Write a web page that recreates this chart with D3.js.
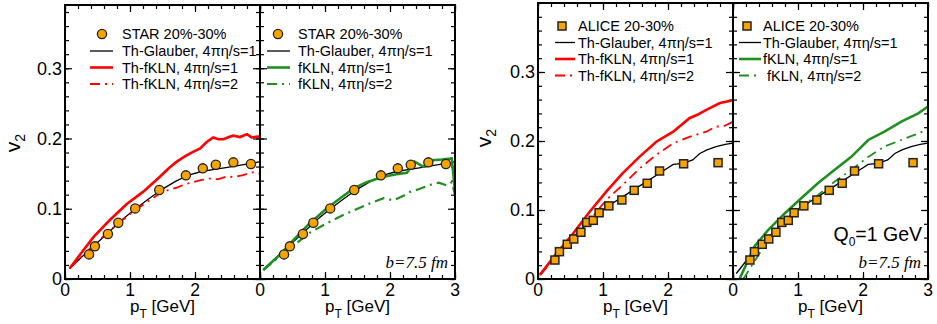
<!DOCTYPE html>
<html>
<head>
<meta charset="utf-8">
<script src="https://cdn.jsdelivr.net/npm/d3@7"></script>
<style>
  body { margin: 0; background: #fff; }
  svg { display: block; }
  text { font-family: "Liberation Sans", Arial, sans-serif; fill: #000; }
</style>
</head>
<body>
<svg id="chart" width="937" height="324"></svg>
<script>
// ---- data (pT in GeV, v2) ----
const starPt = [0.37, 0.46, 0.66, 0.82, 1.08, 1.45, 1.86, 2.12, 2.32, 2.59, 2.86];
const starV2 = [0.035, 0.0465, 0.064, 0.080, 0.1005, 0.1266, 0.1475, 0.1575, 0.1626, 0.166, 0.1636];

const alicePt = [0.26, 0.33, 0.45, 0.55, 0.66, 0.75, 0.85, 0.94, 1.09, 1.29, 1.48, 1.68, 1.87, 2.24, 2.77];
const aliceV2 = [0.0275, 0.0396, 0.0503, 0.058, 0.0677, 0.082, 0.085, 0.096, 0.106, 0.1145, 0.1285, 0.1387, 0.1565, 0.167, 0.1686];

// RHIC hydro curves
const glauberRhic = [[0.07,0.015],[0.3,0.035],[0.5,0.052],[0.7,0.069],[0.9,0.086],[1.1,0.101],[1.3,0.115],[1.5,0.128],
  [1.7,0.139],[1.9,0.148],[2.1,0.153],[2.3,0.156],[2.5,0.159],[2.7,0.162],[2.9,0.165],[3.0,0.167]];
const fklnRhic1 = [[0.07,0.015],[0.25,0.037],[0.44,0.060],[0.69,0.084],[0.95,0.1067],[1.2,0.124],[1.46,0.1455],[1.6,0.158],
  [1.72,0.167],[1.85,0.175],[1.97,0.181],[2.08,0.186],[2.18,0.195],[2.28,0.2015],[2.36,0.199],[2.44,0.199],[2.52,0.202],
  [2.59,0.204],[2.69,0.202],[2.8,0.206],[2.87,0.2015],[3.0,0.203]];
const fklnRhic2 = [[0.07,0.015],[0.3,0.036],[0.5,0.053],[0.7,0.07],[0.9,0.085],[1.08,0.098],[1.3,0.112],[1.46,0.122],
  [1.6,0.127],[1.72,0.13],[1.85,0.135],[1.97,0.138],[2.1,0.141],[2.23,0.143],[2.35,0.142],[2.49,0.146],[2.6,0.145],
  [2.74,0.148],[2.9,0.152],[3.0,0.150]];
const mcklnRhic1 = [[0.05,0.0128],[0.3,0.034],[0.51,0.055],[0.75,0.078],[1.03,0.1006],[1.25,0.116],[1.44,0.129],[1.65,0.138],
  [1.9,0.1455],[2.1,0.149],[2.26,0.151],[2.38,0.167],[2.51,0.16],[2.64,0.169],[2.8,0.170],[2.95,0.1717],[3.0,0.125]];
const mcklnRhic2 = [[0.05,0.0128],[0.36,0.0365],[0.77,0.066],[1.0,0.078],[1.28,0.091],[1.5,0.1],[1.7,0.108],[1.9,0.115],
  [2.05,0.112],[2.2,0.118],[2.31,0.124],[2.45,0.128],[2.62,0.134],[2.75,0.137],[2.88,0.133],[2.95,0.138],[3.0,0.12]];

// LHC hydro curves
const glauberLhc = [[0.05,0.008],[0.3,0.038],[0.5,0.057],[0.7,0.075],[0.9,0.093],[1.1,0.107],[1.3,0.119],[1.5,0.131],
  [1.7,0.143],[1.9,0.155],[2.08,0.166],[2.23,0.1677],[2.38,0.1725],[2.49,0.182],[2.6,0.187],[2.74,0.192],[2.88,0.195],[3.0,0.197]];
const fklnLhc1 = [[0.03,0.006],[0.283,0.037],[0.54,0.066],[0.795,0.0975],[1.05,0.1266],[1.3,0.153],[1.56,0.177],[1.82,0.199],
  [2.08,0.2135],[2.33,0.233],[2.45,0.238],[2.59,0.245],[2.8,0.255],[3.0,0.259]];
const fklnLhc2 = [[0.03,0.006],[0.2,0.024],[0.35,0.038],[0.54,0.054],[0.795,0.0855],[1.05,0.1145],[1.3,0.136],[1.56,0.160],
  [1.82,0.18],[2.08,0.1967],[2.33,0.206],[2.59,0.2135],[2.74,0.221],[2.85,0.221],[3.0,0.228]];
const mcklnLhc1 = [[0.1,0.0],[0.33,0.047],[0.54,0.071],[0.795,0.095],[1.05,0.117],[1.31,0.139],[1.56,0.158],[1.82,0.177],
  [2.08,0.2015],[2.33,0.2135],[2.59,0.228],[2.85,0.240],[3.0,0.25]];
const mcklnLhc2 = [[0.15,0.0],[0.18,0.003],[0.44,0.042],[0.69,0.071],[1.05,0.105],[1.31,0.1217],[1.56,0.141],[1.82,0.158],
  [2.08,0.177],[2.33,0.192],[2.59,0.2015],[2.85,0.211],[3.0,0.217]];

const starLegend = ['STAR 20%-30%', 'Th-Glauber, 4πη/s=1'];
const aliceLegend = ['ALICE 20-30%', 'Th-Glauber, 4πη/s=1'];
const redLegend = ['Th-fKLN, 4πη/s=1', 'Th-fKLN, 4πη/s=2'];
const greenLegendRhic = ['fKLN, 4πη/s=1', 'fKLN, 4πη/s=2'];
const greenLegendLhc = ['fKLN, 4πη/s=1', ' fKLN, 4πη/s=2'];

// ---- layout ----
const svg = d3.select('#chart');
const orange = '#f7a400';
const red = '#ff0000';
const green = '#1f8f1f';
const dashDot = '10,5,2,5';
const bottom = 279;

const panels = [
  {id: 'p1', left: 65, right: 260, top: 5, ymax: 0.39, yLabels: true, xLabels: [0, 1, 2],
   exp: 'star', curves: [[glauberRhic, '#000', 1.3, null], [fklnRhic1, red, 2.6, null], [fklnRhic2, red, 1.8, dashDot]],
   legend: {mark: 102, line: [90, 113], text: 122, rows: [34, 51, 67.5, 84]},
   labels: starLegend.concat(redLegend), v2: [20, 143], b: false, q: false},
  {id: 'p2', left: 260, right: 455, top: 5, ymax: 0.39, yLabels: false, xLabels: [0, 1, 2, 3],
   exp: 'star', curves: [[glauberRhic, '#000', 1.3, null], [mcklnRhic1, green, 2.6, null], [mcklnRhic2, green, 2.2, dashDot]],
   legend: {mark: 278, line: [267, 290], text: 298, rows: [34, 51, 67.5, 84]},
   labels: starLegend.concat(greenLegendRhic), b: true, q: false},
  {id: 'p3', left: 538, right: 733, top: 3, ymax: 0.4, yLabels: true, xLabels: [0, 1, 2],
   exp: 'alice', curves: [[glauberLhc, '#000', 1.3, null], [fklnLhc1, red, 2.6, null], [fklnLhc2, red, 1.8, dashDot]],
   legend: {mark: 562, line: [555, 575], text: 578, rows: [26, 42.5, 59, 75.5]},
   labels: aliceLegend.concat(redLegend), v2: [491, 138], b: false, q: false},
  {id: 'p4', left: 733, right: 928, top: 3, ymax: 0.4, yLabels: false, xLabels: [0, 1, 2, 3],
   exp: 'alice', curves: [[glauberLhc, '#000', 1.3, null], [mcklnLhc1, green, 2.6, null], [mcklnLhc2, green, 1.8, dashDot]],
   legend: {mark: 747, line: [739, 761], text: 763, rows: [26, 42.5, 59, 75.5]},
   labels: aliceLegend.concat(greenLegendLhc), b: true, q: true}
];

const xMinor = d3.range(0, 3.001, 0.2).map(v => +v.toFixed(1));
const xMajor = [0, 1, 2, 3];

panels.forEach(p => {
  const x = d3.scaleLinear().domain([0, 3]).range([p.left, p.right]);
  const y = d3.scaleLinear().domain([0, p.ymax]).range([bottom, p.top]);
  const yMinor = d3.range(0, p.ymax + 1e-9, 0.02).map(v => +v.toFixed(2));
  const yMajor = [0, 0.1, 0.2, 0.3];
  const g = svg.append('g');

  svg.append('clipPath').attr('id', 'clip-' + p.id)
    .append('rect').attr('x', p.left).attr('y', p.top)
    .attr('width', p.right - p.left).attr('height', bottom - p.top);

  // ticks on all four sides, pointing inward
  const tickAxis = (axis, tr, vals, size) => g.append('g')
    .attr('transform', tr)
    .call(axis.tickValues(vals).tickSize(size).tickFormat(''))
    .call(a => a.select('.domain').remove())
    .call(a => a.selectAll('line').attr('stroke', '#000').attr('stroke-width', 1.2));

  [[xMinor, 4], [xMajor, 7]].forEach(([vals, s]) => {
    tickAxis(d3.axisBottom(x), `translate(0,${bottom})`, vals, -s);
    tickAxis(d3.axisTop(x), `translate(0,${p.top})`, vals, -s);
  });
  [[yMinor, 4], [yMajor, 7]].forEach(([vals, s]) => {
    tickAxis(d3.axisLeft(y), `translate(${p.left},0)`, vals, -s);
    tickAxis(d3.axisRight(y), `translate(${p.right},0)`, vals, -s);
  });

  // tick labels
  g.selectAll('.xl').data(p.xLabels).enter().append('text')
    .attr('x', d => x(d)).attr('y', 295.5)
    .attr('text-anchor', 'middle').attr('font-size', 17.5).text(d => d);
  if (p.yLabels) {
    g.selectAll('.yl').data(yMajor).enter().append('text')
      .attr('x', p.left - 3).attr('y', d => y(d)).attr('dy', '0.35em')
      .attr('text-anchor', 'end').attr('font-size', 18)
      .text(d => d === 0 ? '0' : d3.format('.1f')(d));
    const t = g.append('text')
      .attr('transform', `translate(${p.v2[0]},${p.v2[1]}) rotate(-90)`)
      .attr('text-anchor', 'middle').attr('font-size', 21);
    t.append('tspan').text('v');
    t.append('tspan').attr('font-size', 14).attr('dy', 5).text('2');
  }

  // axis title
  const xt = g.append('text')
    .attr('x', (p.left + p.right) / 2).attr('y', 311.5)
    .attr('text-anchor', 'middle').attr('font-size', 17);
  xt.append('tspan').text('p');
  xt.append('tspan').attr('font-size', 12).attr('dy', 6).text('T');
  xt.append('tspan').attr('dy', -6).text(' [GeV]');

  // curves
  const line = d3.line().x(d => x(d[0])).y(d => y(d[1]));
  const plot = g.append('g').attr('clip-path', `url(#clip-${p.id})`);
  p.curves.forEach(([data, col, w, dash]) => {
    plot.append('path').datum(data)
      .attr('d', line).attr('fill', 'none')
      .attr('stroke', col).attr('stroke-width', w)
      .attr('stroke-dasharray', dash);
  });

  // experimental points
  const pts = p.exp === 'star' ? d3.zip(starPt, starV2) : d3.zip(alicePt, aliceV2);
  if (p.exp === 'star') {
    plot.selectAll('.pt').data(pts).enter().append('circle')
      .attr('cx', d => x(d[0])).attr('cy', d => y(d[1])).attr('r', 4.6)
      .attr('fill', orange).attr('stroke', '#222').attr('stroke-width', 1.3);
  } else {
    plot.selectAll('.pt').data(pts).enter().append('rect')
      .attr('x', d => x(d[0]) - 4).attr('y', d => y(d[1]) - 4)
      .attr('width', 8).attr('height', 8)
      .attr('fill', orange).attr('stroke', '#222').attr('stroke-width', 1.5);
  }

  // frame
  g.append('rect').attr('x', p.left).attr('y', p.top)
    .attr('width', p.right - p.left).attr('height', bottom - p.top)
    .attr('fill', 'none').attr('stroke', '#000').attr('stroke-width', 2);

  // legend
  const L = p.legend;
  if (p.exp === 'star') {
    g.append('circle').attr('cx', L.mark).attr('cy', L.rows[0]).attr('r', 4.6)
      .attr('fill', orange).attr('stroke', '#222').attr('stroke-width', 1.3);
  } else {
    g.append('rect').attr('x', L.mark - 4).attr('y', L.rows[0] - 4).attr('width', 8).attr('height', 8)
      .attr('fill', orange).attr('stroke', '#222').attr('stroke-width', 1.5);
  }
  p.curves.forEach(([, col, w, dash], i) => {
    g.append('line').attr('x1', L.line[0]).attr('x2', L.line[1])
      .attr('y1', L.rows[i + 1]).attr('y2', L.rows[i + 1])
      .attr('stroke', col).attr('stroke-width', w).attr('stroke-dasharray', dash);
  });
  p.labels.forEach((s, i) => {
    g.append('text').attr('x', L.text).attr('y', L.rows[i]).attr('dy', '0.36em')
      .attr('font-size', 14.5).attr('xml:space', 'preserve').style('white-space', 'pre').text(s);
  });

  if (p.b) {
    g.append('text').attr('x', p.right - 7).attr('y', 268)
      .attr('text-anchor', 'end').attr('font-size', 17)
      .style('font-family', '"Liberation Serif", "Times New Roman", serif')
      .style('font-style', 'italic').attr('fill', '#333').text('b=7.5 fm');
  }
  if (p.q) {
    const q = g.append('text').attr('x', p.right - 6).attr('y', 241)
      .attr('text-anchor', 'end').attr('font-size', 19.5);
    q.append('tspan').text('Q');
    q.append('tspan').attr('font-size', 12).attr('dy', 5).text('0');
    q.append('tspan').attr('dy', -5).text('=1 GeV');
  }
});
</script>
</body>
</html>
